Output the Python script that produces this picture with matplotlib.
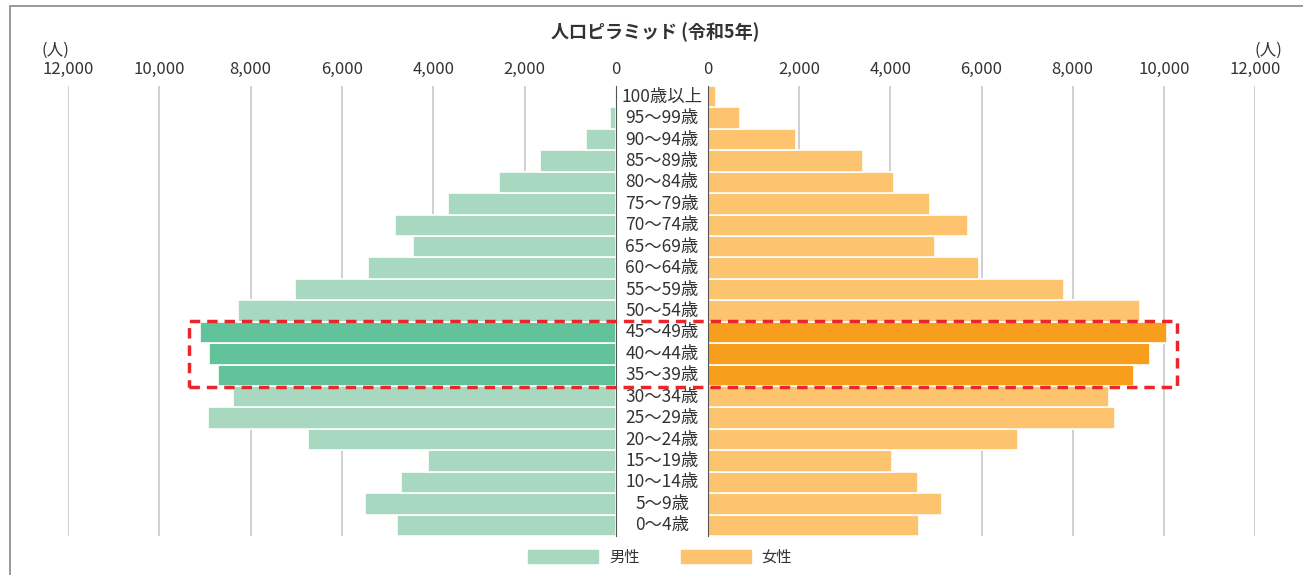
import numpy as np
import matplotlib.pyplot as plt
from matplotlib.patches import Rectangle, Patch

plt.rcParams['font.family'] = ['Noto Sans CJK JP', 'DejaVu Sans']

ages = ["0～4歳", "5～9歳", "10～14歳", "15～19歳", "20～24歳", "25～29歳",
        "30～34歳", "35～39歳", "40～44歳", "45～49歳", "50～54歳", "55～59歳",
        "60～64歳", "65～69歳", "70～74歳", "75～79歳", "80～84歳", "85～89歳",
        "90～94歳", "95～99歳", "100歳以上"]
male = [4800, 5500, 4710, 4120, 6740, 8930, 8390, 8710, 8910, 9110, 8280, 7030,
        5430, 4450, 4840, 3680, 2560, 1660, 660, 130, 20]
female = [4630, 5130, 4600, 4040, 6800, 8930, 8790, 9340, 9690, 10070, 9470, 7810,
          5940, 4980, 5700, 4870, 4080, 3400, 1930, 700, 175]
highlight = ["35～39歳", "40～44歳", "45～49歳"]
ticks = [0, 2000, 4000, 6000, 8000, 10000, 12000]

c_m, c_m_hi = "#a8d8c0", "#62c39b"
c_f, c_f_hi = "#fec36e", "#f89e1d"

W, H = 1303, 575
fig = plt.figure(figsize=(W / 100, H / 100), dpi=100)

bot, top = 536, 86
ax_l = fig.add_axes([68 / W, (H - bot) / H, (616 - 68) / W, (bot - top) / H])
ax_r = fig.add_axes([708 / W, (H - bot) / H, (1255 - 708) / W, (bot - top) / H])

y = np.arange(len(ages))
cm = [c_m_hi if a in highlight else c_m for a in ages]
cf = [c_f_hi if a in highlight else c_f for a in ages]
ax_l.barh(y, male, height=1.0, color=cm, edgecolor="white", linewidth=1.2, zorder=2)
ax_r.barh(y, female, height=1.0, color=cf, edgecolor="white", linewidth=1.2, zorder=2)

for ax in (ax_l, ax_r):
    ax.set_xlim(0, 12000)
    ax.set_ylim(-0.5, len(ages) - 0.5)
    ax.set_xticks(ticks)
    ax.set_xticklabels([f"{t:,}" for t in ticks])
    ax.xaxis.tick_top()
    ax.tick_params(axis="x", length=0, pad=6, labelsize=12, labelcolor="#333333")
    ax.set_yticks([])
    ax.grid(axis="x", color="#c8c8c8", linewidth=1.2, zorder=0)
    for s in ax.spines.values():
        s.set_visible(False)
    ax.set_facecolor("none")

ax_l.invert_xaxis()
ax_l.spines["right"].set_visible(True)
ax_l.spines["right"].set_color("#555555")
ax_r.spines["left"].set_visible(True)
ax_r.spines["left"].set_color("#555555")

# age labels in the gap
mid = (616 + 708) / 2 / W
for i, a in enumerate(ages):
    yy = ax_l.transData.transform((0, i))[1] / H
    fig.text(mid, yy, a, ha="center", va="center", fontsize=12.5, color="#333333")

fig.text(655 / W, 1 - 32 / H, "人口ピラミッド (令和5年)", ha="center", va="center",
         fontsize=13, fontweight="bold", color="#333333")
fig.text(55 / W, 1 - 50 / H, "(人)", ha="center", va="center", fontsize=12, color="#333333")
fig.text(1268 / W, 1 - 50 / H, "(人)", ha="center", va="center", fontsize=12, color="#333333")

# red dashed box around highlighted groups
idx = [ages.index(a) for a in highlight]
x0 = ax_l.transData.transform((9350, 0))[0]
x1 = ax_r.transData.transform((10290, 0))[0]
y0 = ax_l.transData.transform((0, min(idx) - 0.55))[1]
y1 = ax_l.transData.transform((0, max(idx) + 0.55))[1]
fig.patches.append(Rectangle((x0 / W, y0 / H), (x1 - x0) / W, (y1 - y0) / H,
                             transform=fig.transFigure, fill=False, edgecolor="#e8262b",
                             linewidth=2.5, linestyle=(0, (3, 2)), zorder=10))

# outer frame
fig.patches.append(Rectangle((10 / W, -0.1), 1.2, 1.1 - 6 / H, transform=fig.transFigure,
                             fill=False, edgecolor="#888888", linewidth=1.2))

handles = [Patch(color=c_m, label="男性"), Patch(color=c_f, label="女性")]
fig.legend(handles=handles, loc="center", bbox_to_anchor=(660 / W, 1 - 557 / H), ncol=2,
           frameon=False, fontsize=11, handlelength=4.6, handleheight=0.9,
           handletextpad=0.7, columnspacing=2.7, labelcolor="#333333")

fig.savefig("out.png", dpi=100)
